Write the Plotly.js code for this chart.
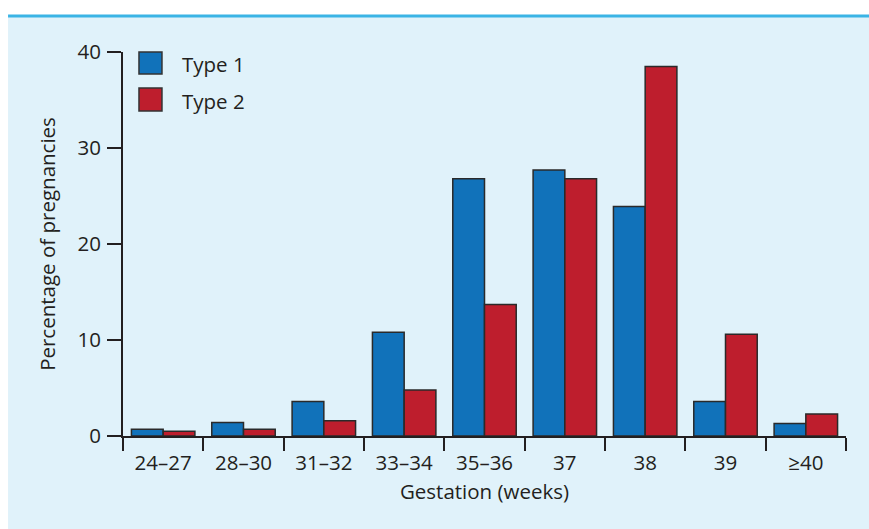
<!DOCTYPE html>
<html>
<head>
<meta charset="utf-8">
<script src="https://cdn.plot.ly/plotly-3.0.1.min.js"></script>
<style>html,body{margin:0;padding:0;background:#fff;}#chart{width:869px;height:529px;}</style>
</head>
<body>
<div id="chart"></div>
<script>
const categories = ["24–27", "28–30", "31–32", "33–34", "35–36", "37", "38", "39", "≥40"];
const type1 = [0.7, 1.4, 3.6, 10.8, 26.8, 27.7, 23.9, 3.6, 1.3];
const type2 = [0.5, 0.7, 1.6, 4.8, 13.7, 26.8, 38.5, 10.6, 2.3];
const seriesNames = ["Type 1", "Type 2"];
const seriesColors = ["#1172ba", "#be1e2d"];
const yTicks = [0, 10, 20, 30, 40];

const textColor = "#231f20";
const font = {family: "Open Sans, sans-serif", size: 20.5, color: textColor};

const traces = [type1, type2].map((vals, i) => ({
  type: "bar",
  x: categories,
  y: vals,
  name: seriesNames[i],
  showlegend: false,
  marker: {color: seriesColors[i], line: {color: "#2a2a2a", width: 1.5}}
}));

// legend drawn with shapes and annotations (large swatches)
const legendShapes = seriesNames.map((n, i) => ({
  type: "rect", xref: "paper", yref: "paper", layer: "above",
  x0: 0.0221, x1: 0.0539,
  y0: i === 0 ? 0.9427 : 0.8464, y1: i === 0 ? 1.0 : 0.90625,
  fillcolor: seriesColors[i], line: {color: "#333", width: 1.5}
}));
const legendText = seriesNames.map((n, i) => ({
  xref: "paper", yref: "paper", x: 0.0785, y: i === 0 ? 0.97 : 0.873,
  xanchor: "left", yanchor: "middle", text: n, showarrow: false, font: font
}));

const layout = {
  width: 869, height: 529,
  margin: {l: 123, r: 23, t: 52, b: 93},
  paper_bgcolor: "#ffffff",
  plot_bgcolor: "rgba(0,0,0,0)",
  font: font,
  barmode: "group",
  bargap: 0.21,
  bargroupgap: 0,
  xaxis: {
    type: "category",
    tickson: "boundaries",
    ticks: "outside", ticklen: 13, tickwidth: 2, tickcolor: textColor,
    ticklabelstandoff: 7,
    showline: true, linecolor: textColor, linewidth: 2,
    showgrid: false, zeroline: false,
    tickfont: font,
    title: {text: "Gestation (weeks)", font: font, standoff: 10}
  },
  yaxis: {
    range: [0, 40],
    tickvals: yTicks,
    ticks: "outside", ticklen: 14, tickwidth: 2, tickcolor: textColor,
    ticklabelstandoff: 2,
    showline: true, linecolor: textColor, linewidth: 2,
    showgrid: false, zeroline: false,
    tickfont: font,
    title: {text: "Percentage of pregnancies", font: font, standoff: 16}
  },
  shapes: [
    {type: "rect", xref: "paper", yref: "paper", layer: "below",
     x0: -0.159, x1: 1.04, y0: -0.25, y1: 1.0937,
     fillcolor: "#e0f2fa", line: {width: 0}},
    {type: "line", xref: "paper", yref: "paper", layer: "below",
     x0: -0.159, x1: 1.04, y0: 1.0937, y1: 1.0937,
     line: {color: "#3bb4e5", width: 3}}
  ].concat(legendShapes),
  annotations: legendText
};

Plotly.newPlot("chart", traces, layout, {displayModeBar: false, staticPlot: true});
</script>
</body>
</html>
